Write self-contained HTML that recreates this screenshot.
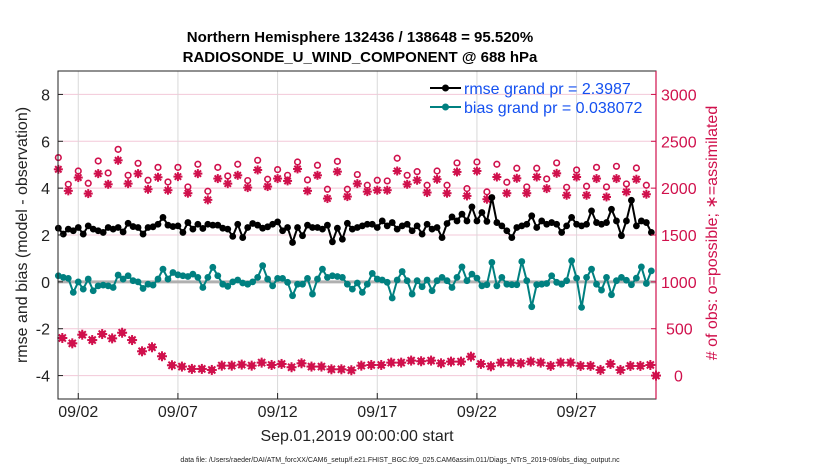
<!DOCTYPE html>
<html><head><meta charset="utf-8"><style>
body{margin:0;background:#fff;width:830px;height:470px;overflow:hidden}
svg{font-family:"Liberation Sans",Arial,sans-serif}
</style></head><body>
<svg id="chart" width="830" height="470" viewBox="0 0 830 470">
<g font-weight="bold" font-size="15" text-anchor="middle" fill="#000">
<text x="360" y="42">Northern Hemisphere 132436 / 138648 = 95.520%</text>
<text x="360" y="62">RADIOSONDE_U_WIND_COMPONENT @ 688 hPa</text>
</g>
<g id="grid"></g>
<g id="series"></g>
<rect x="58" y="71" width="598" height="328" fill="none" stroke="#222" stroke-width="1"/>
<line x1="656" y1="71" x2="656" y2="399" stroke="#d0104c" stroke-width="1.2"/>
<g id="axes"></g>
<text x="27" y="235" transform="rotate(-90 27 235)" text-anchor="middle" font-size="16" fill="#222">rmse and bias (model - observation)</text>
<text x="717" y="233" transform="rotate(-90 717 233)" text-anchor="middle" font-size="16" fill="#d0104c"># of obs: o=possible; ∗=assimilated</text>
<text x="357" y="441" text-anchor="middle" font-size="16" fill="#222">Sep.01,2019 00:00:00 start</text>
<text x="400" y="462" text-anchor="middle" font-size="7" fill="#222">data file: /Users/raeder/DAI/ATM_forcXX/CAM6_setup/f.e21.FHIST_BGC.f09_025.CAM6assim.011/Diags_NTrS_2019-09/obs_diag_output.nc</text>
<g>
<g>
<line x1="430" y1="88" x2="461" y2="88" stroke="#000" stroke-width="2"/><circle cx="445.5" cy="88" r="3.5" fill="#000"/>
<text x="464" y="94" font-size="16" fill="#1450f0">rmse grand pr = 2.3987</text></g>
<g>
<line x1="430" y1="107" x2="461" y2="107" stroke="#008080" stroke-width="2"/><circle cx="445.5" cy="107" r="3.5" fill="#008080"/>
<text x="464" y="113" font-size="16" fill="#1450f0">bias grand pr = 0.038072</text></g>
</g>
</svg>
<script>
const rmse=[2.29,2.04,2.25,2.18,2.32,2.04,2.39,2.25,2.18,2.11,2.32,2.25,2.32,2.13,2.5,2.36,2.32,2.04,2.32,2.35,2.46,2.75,2.42,2.36,2.39,2.11,2.53,2.25,2.46,2.28,2.46,
2.42,2.42,2.29,2.25,1.94,2.46,1.89,2.32,2.49,2.42,2.29,2.35,2.46,2.56,2.18,2.32,1.68,2.32,1.97,2.42,2.32,2.32,2.25,2.42,1.71,2.29,1.82,2.5,2.25,2.32,
2.39,2.46,2.46,2.32,2.6,2.39,2.53,2.25,2.39,2.46,2.18,2.39,2.04,2.46,2.25,2.32,1.89,2.49,2.77,2.6,2.89,2.6,3.2,2.6,2.96,2.58,3.6,2.53,2.39,2.18,
1.89,2.32,2.39,2.46,2.82,2.32,2.6,2.46,2.53,2.46,2.11,2.39,2.75,2.46,2.39,2.46,3.03,2.53,2.46,2.53,3.1,2.6,1.97,2.6,3.48,2.39,2.6,2.53,2.11];
const bias=[0.26,0.19,0.15,-0.45,0,-0.31,0.12,-0.38,-0.17,-0.14,-0.17,-0.24,0.29,0.12,0.26,0.05,0,-0.28,-0.1,-0.14,0.12,0.54,0.12,0.4,0.3,0.26,0.23,0.33,0.19,-0.24,0.19,
0.62,0.26,-0.1,-0.19,0,0.08,-0.05,-0.1,0,0.19,0.69,0.12,-0.17,0.15,0.15,-0.02,-0.59,-0.1,-0.1,0.15,-0.52,0.12,0.54,0.19,0.26,0.23,0.19,-0.1,-0.31,-0.05,
-0.45,-0.1,0.36,0.12,0.08,-0.02,-0.69,0.08,0.44,0.05,-0.52,0.05,-0.21,0.08,-0.38,0.05,0.19,0.05,-0.24,0.19,0.64,0.05,0.33,0.16,-0.17,-0.12,0.83,-0.17,0.19,-0.1,
-0.12,-0.12,0.87,0.05,-1.06,-0.12,-0.1,-0.07,0.26,-0.02,-0.1,0.05,0.9,0.16,-1.09,0.19,0.54,-0.1,-0.35,0.19,-0.55,0.05,0.19,0.07,-0.12,0.16,0.64,-0.07,0.47];
const possible=[2326,2041,2183,2052,2290,2162,2414,2137,2265,2084,2222,2066,2222,2013,2255,1967,2222,2130,2255,2081,2297,2095,2198,2137,2279,2088,2244,1988,2286,1988,2145,
2031,2084,2077,2319,2137,2176,2031,2183,2031,2269,1995,2279,1960,2255,2063,2212,2013,2212,2098,2269,2009,2194,2020,2222,2013,2233,2045,2215,2031];
const assimilated=[2201,1971,2113,1942,2155,2041,2297,2048,2155,1988,2116,1978,2123,1946,2155,1875,2102,2048,2137,2006,2194,2017,2102,2077,2205,1971,2137,1889,2176,1910,2048,
1963,1978,1978,2183,2041,2084,1953,2095,1946,2173,1917,2183,1882,2119,1946,2105,1946,2119,1995,2158,1924,2119,1924,2102,1906,2102,1960,2095,1935];
const assimLow=[401,344,436,379,443,397,457,379,259,302,206,110,96,71,71,60,106,106,117,106,138,113,124,89,131,96,96,67,67,57,
106,113,113,138,138,160,153,160,131,149,149,202,124,99,138,138,131,149,138,103,138,138,103,103,60,124,60,103,103,113,0];
const xTickLabels=["09/02","09/07","09/12","09/17","09/22","09/27"];
const xTickDays=[1,6,11,16,21,26];
const yTicks=[-4,-2,0,2,4,6,8];
const rTicks=[0,500,1000,1500,2000,2500,3000];

const NS="http://www.w3.org/2000/svg";
const X0=58,X1=656,Y0=399,Y1=71;
const xs=d=>X0+(d+0.0165)*(X1-X0)/30;
const ys=v=>Y0-(v+5)*(Y0-Y1)/14;
const yr=c=>ys(c/250-4);
const PINK="#d0104c",TEAL="#008080";
function mk(tag,attrs,parent){const e=document.createElementNS(NS,tag);for(const k in attrs)e.setAttribute(k,attrs[k]);parent.appendChild(e);return e;}
const grid=document.getElementById('grid'),axes=document.getElementById('axes'),ser=document.getElementById('series');

yTicks.forEach(v=>{
 const g=mk('line',{x1:X0,x2:X1,y1:ys(v),y2:ys(v),stroke:'#f3c8d8','stroke-width':1},grid);
 
 
 mk('line',{x1:X0,x2:X0+5,y1:ys(v),y2:ys(v),stroke:'#222'},axes);
 const t=mk('text',{x:X0-8,y:ys(v)+6,'text-anchor':'end','font-size':16,fill:'#222'},axes);
 t.textContent=v;
 
 
});
rTicks.forEach(c=>{
 mk('line',{x1:X1-5,x2:X1,y1:yr(c),y2:yr(c),stroke:PINK},axes);
 const t=mk('text',{x:c<1000?(c==0?674:666):661,y:yr(c)+6,'font-size':16,fill:PINK},axes);
 t.textContent=c;
 
 
});
xTickDays.forEach((d,i)=>{
 const x=xs(d);
 const g=mk('line',{x1:x,x2:x,y1:Y1,y2:Y0,stroke:'#d8d8d8','stroke-width':1},grid);
 
 
 mk('line',{x1:x,x2:x,y1:Y0-6,y2:Y0,stroke:'#222'},axes);
 const t=mk('text',{x:x,y:Y0+18,'text-anchor':'middle','font-size':16,fill:'#222'},axes);
 t.textContent=xTickLabels[i];
 
 
});
const zl=mk('line',{x1:X0,x2:X1,y1:ys(0),y2:ys(0),stroke:'#b0b0b0','stroke-width':3},grid);



function star(x,y,r,parent,fillDot){
 const g=mk('g',{stroke:PINK,'stroke-width':2,fill:PINK},parent);
 for(let a=0;a<4;a++){const t=a*Math.PI/4;mk('line',{x1:x-r*Math.cos(t),y1:y-r*Math.sin(t),x2:x+r*Math.cos(t),y2:y+r*Math.sin(t)},g);}
 if(fillDot)mk('circle',{cx:x,cy:y,r:fillDot,stroke:'none'},g);
 return g;
}
const gp=mk('g',{},ser);
possible.forEach((c,i)=>{const m=mk('circle',{cx:xs(i*0.5),cy:yr(c),r:2.8,fill:'none',stroke:PINK,'stroke-width':1.6},gp);
 
 });
const ga=mk('g',{},ser);
assimilated.forEach((c,i)=>{const m=star(xs(i*0.5),yr(c),4.5,ga,2.2);
 
 });
const gl=mk('g',{},ser);
assimLow.forEach((c,i)=>{const x=Math.min(xs(0.2+i*0.5),X1);const m=star(x,yr(c),5,gl,3.4);
 
 });
function lineSeries(arr,color,name){
 const g=mk('g',{},ser);
 
 
 const pts=arr.map((v,i)=>xs(i*0.25).toFixed(1)+','+ys(v).toFixed(1)).join(' ');
 mk('polyline',{points:pts,fill:'none',stroke:color,'stroke-width':2},g);
 arr.forEach((v,i)=>{const c=mk('circle',{cx:xs(i*0.25),cy:ys(v),r:3.4,fill:color},g);
  
  });
}
lineSeries(bias,TEAL,'bias-series');
lineSeries(rmse,'#000','rmse-series');
</script>
</body></html>
